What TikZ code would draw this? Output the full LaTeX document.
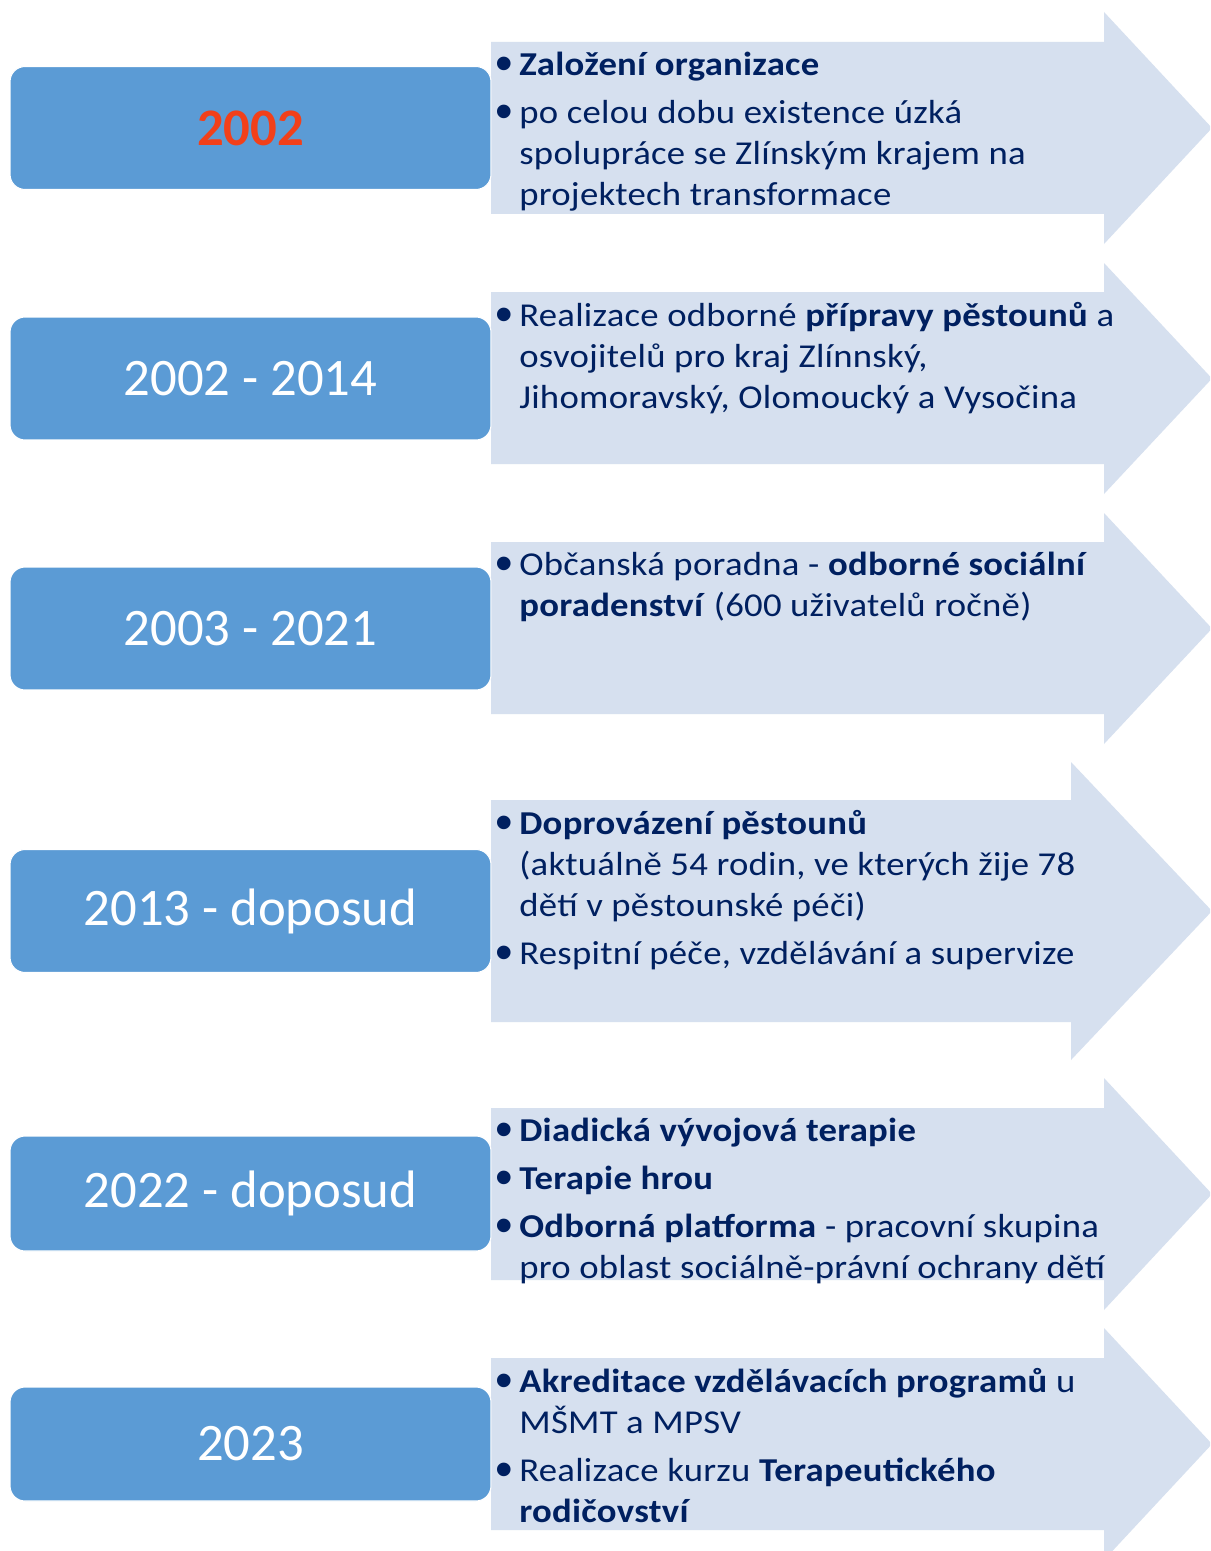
\documentclass[tikz,border=0pt]{standalone}
\usepackage{fontspec}
\setmainfont{Carlito}
\newfontfamily\descfont[FakeStretch=1.1,LetterSpace=0.8]{Carlito}
\newfontfamily\bulfont{Liberation Sans}
\definecolor{bg}{HTML}{FFFFFF}
\definecolor{yearfill}{HTML}{5B9BD5}
\definecolor{arrowfill}{HTML}{D6E0EF}
\definecolor{ink}{HTML}{002060}
\definecolor{hilite}{HTML}{F2401A}
\newcommand{\bul}{\makebox[0.44cm][l]{\hspace*{-0.04cm}\raisebox{-0.32ex}{\scalebox{1.5}{\bulfont\textbullet}}}}
\newcommand{\ind}{\hspace*{0.44cm}}

\begin{document}
\begin{tikzpicture}[x=0.02cm,y=-0.02cm,
  yearbox/.style={draw=white,line width=0.6pt,fill=yearfill,rounded corners=0.3cm,
    minimum width=9.62cm,minimum height=2.46cm,inner sep=0pt,text=white,
    font=\fontsize{30pt}{36pt}\selectfont},
  desc/.style={anchor=north west,align=left,inner sep=0pt,text=ink,
    font=\descfont\fontsize{19pt}{23.3pt}\selectfont}]
  \useasboundingbox (0,0) rectangle (1210,1551);
  \clip (0,0) rectangle (1210,1551);
  \fill[bg] (0,0) rectangle (1210,1551);

  % ===== arrows (drawn first) =====
  \fill[arrowfill] (491,42) -- (1104,42) -- (1104,12) -- (1212,128) -- (1104,244) -- (1104,214) -- (491,214) -- cycle;
  \fill[arrowfill] (491,292) -- (1104,292) -- (1104,263) -- (1212,378.5) -- (1104,494) -- (1104,464) -- (491,464) -- cycle;
  \fill[arrowfill] (491,542) -- (1104,542) -- (1104,513) -- (1212,628.5) -- (1104,744) -- (1104,714) -- (491,714) -- cycle;
  \fill[arrowfill] (491,800) -- (1071,800) -- (1071,762) -- (1212,911) -- (1071,1060) -- (1071,1022) -- (491,1022) -- cycle;
  \fill[arrowfill] (491,1108) -- (1104,1108) -- (1104,1078) -- (1212,1194) -- (1104,1310) -- (1104,1280) -- (491,1280) -- cycle;
  \fill[arrowfill] (491,1358) -- (1104,1358) -- (1104,1328) -- (1212,1444) -- (1104,1560) -- (1104,1530) -- (491,1530) -- cycle;

  % ===== year boxes =====
  \node[yearbox] (y2002) at (250.5,128) {\textcolor{hilite}{\textbf{2002}}};
  \node[yearbox] (y2014) at (250.5,378.5) {2002 - 2014};
  \node[yearbox] (y2021) at (250.5,628.5) {2003 - 2021};
  \node[yearbox] (y2013) at (250.5,911) {2013 - doposud};
  \node[yearbox,minimum height=2.3cm] (y2022) at (250.5,1193.5) {2022 - doposud};
  \node[yearbox,minimum height=2.28cm] (y2023) at (250.5,1444) {2023};

  % ===== descriptions =====
  \node[desc] (d2002) at (497,52) {\bul\textbf{Založení organizace}\\[0.14cm]
    \bul po celou dobu existence úzká\\ \ind spolupráce se Zlínským krajem na\\ \ind projektech transformace};
  \node[desc] (d2014) at (497,302) {\bul Realizace odborné \textbf{přípravy pěstounů} a\\
    \ind osvojitelů pro kraj Zlínnský,\\ \ind Jihomoravský, Olomoucký a Vysočina};
  \node[desc] (d2021) at (497,552) {\bul Občanská poradna - \textbf{odborné sociální}\\
    \ind\textbf{poradenství} (600 uživatelů ročně)};
  \node[desc] (d2013) at (497,810) {\bul\textbf{Doprovázení pěstounů}\\
    \ind(aktuálně 54 rodin, ve kterých žije 78\\ \ind dětí v pěstounské péči)\\[0.14cm]
    \bul Respitní péče, vzdělávání a supervize};
  \node[desc] (d2022) at (497,1118) {\bul\textbf{Diadická vývojová terapie}\\[0.14cm]
    \bul\textbf{Terapie hrou}\\[0.14cm]
    \bul\textbf{Odborná platforma} - pracovní skupina\\ \ind pro oblast sociálně-právní ochrany dětí};
  \node[desc] (d2023) at (497,1368) {\bul\textbf{Akreditace vzdělávacích programů} u\\
    \ind MŠMT a MPSV\\[0.14cm]
    \bul Realizace kurzu \textbf{Terapeutického}\\ \ind\textbf{rodičovství}};
\end{tikzpicture}
\end{document}
